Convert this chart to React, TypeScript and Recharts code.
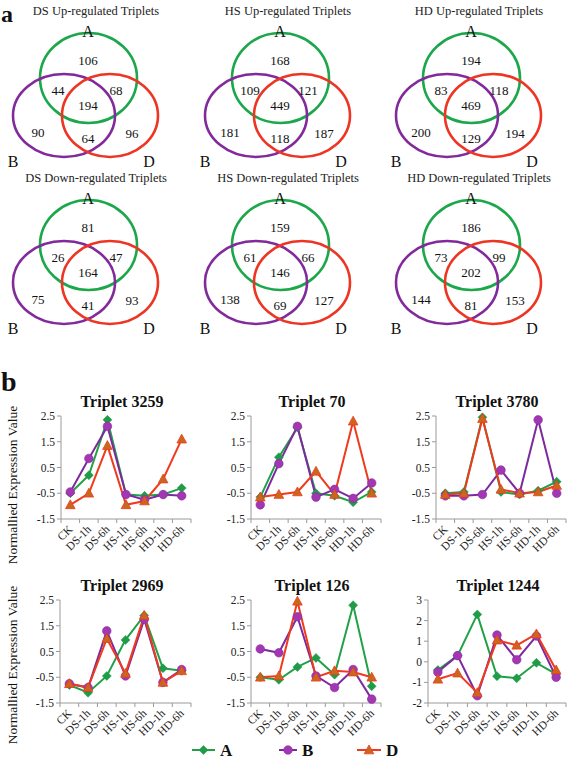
import React from 'react'
import { ScatterChart, Scatter, LineChart, Line, XAxis, YAxis } from 'recharts'

const SERIF = 'Liberation Serif, DejaVu Serif, serif'

// ---------- part a: Venn counts, region order A, AB, AD, ABD, B, BD, D
const vennTitles = [
    'DS Up-regulated Triplets', 'HS Up-regulated Triplets', 'HD Up-regulated Triplets',
    'DS Down-regulated Triplets', 'HS Down-regulated Triplets', 'HD Down-regulated Triplets',
]
const dsUp = [106, 44, 68, 194, 90, 64, 96]
const hsUp = [168, 109, 121, 449, 181, 118, 187]
const hdUp = [194, 83, 118, 469, 200, 129, 194]
const dsDown = [81, 26, 47, 164, 75, 41, 93]
const hsDown = [159, 61, 66, 146, 138, 69, 127]
const hdDown = [186, 73, 99, 202, 144, 81, 153]
const vennCounts = [dsUp, hsUp, hdUp, dsDown, hsDown, hdDown]

// ---------- part b: normalised expression lines
const timePoints = ['CK', 'DS-1h', 'DS-6h', 'HS-1h', 'HS-6h', 'HD-1h', 'HD-6h']

const t3259A = [-0.5, 0.2, 2.35, -0.55, -0.6, -0.55, -0.3]
const t3259B = [-0.45, 0.85, 2.1, -0.55, -0.75, -0.55, -0.6]
const t3259D = [-0.95, -0.5, 1.35, -0.95, -0.8, 0.05, 1.6]

const t70A = [-0.65, 0.9, 2.05, -0.5, -0.6, -0.85, -0.45]
const t70B = [-0.95, 0.65, 2.1, -0.65, -0.35, -0.7, -0.1]
const t70D = [-0.65, -0.55, -0.45, 0.35, -0.55, 2.3, -0.5]

const t3780A = [-0.5, -0.45, 2.45, -0.45, -0.55, -0.4, -0.05]
const t3780B = [-0.6, -0.6, -0.55, 0.4, -0.5, 2.35, -0.5]
const t3780D = [-0.55, -0.5, 2.4, -0.35, -0.5, -0.45, -0.2]

const t2969A = [-0.8, -1.1, -0.45, 0.95, 1.9, -0.15, -0.25]
const t2969B = [-0.75, -0.9, 1.3, -0.45, 1.75, -0.7, -0.2]
const t2969D = [-0.75, -0.9, 1.0, -0.35, 1.9, -0.7, -0.25]

const t126A = [-0.5, -0.6, -0.1, 0.25, -0.4, 2.3, -0.85]
const t126B = [0.6, 0.45, 1.85, -0.45, -0.9, -0.2, -1.35]
const t126D = [-0.5, -0.45, 2.45, -0.5, -0.25, -0.3, -0.5]

const t1244A = [-0.4, 0.3, 2.3, -0.7, -0.8, -0.05, -0.6]
const t1244B = [-0.5, 0.3, -1.65, 1.3, 0.1, 1.25, -0.75]
const t1244D = [-0.85, -0.55, -1.5, 1.05, 0.8, 1.35, -0.4]

const ticksHalf = [-1.5, -0.5, 0.5, 1.5, 2.5]
const ticksInt = [-2, -1, 0, 1, 2, 3]

const GREEN = '#20a146'
const PURPLE = '#7d2a9e'
const RED = '#f03a1e'

// layout of the venn panel (pixel coordinates inside the panel)
const PANEL_W = 184
const PANEL_H = 176
const vennSets = [
    { name: 'A', x: 88.5, y: 78, rx: 48.5, ry: 45, color: '#1ca74a', lx: 88, ly: 31 },
    { name: 'B', x: 64, y: 115.5, rx: 51, ry: 41.5, color: '#82299c', lx: 13, ly: 161 },
    { name: 'D', x: 110, y: 115.5, rx: 48, ry: 41.5, color: '#ee3524', lx: 149, ly: 161 },
]
const regionPos = [[88, 60], [58, 90], [116, 90], [88, 105], [38, 132], [88, 138], [132, 133]]

function VennPanel({ title, counts, left, top }: { title: string; counts: number[]; left: number; top: number }) {
    const numbers = counts.map((n, i) => ({ x: regionPos[i][0], y: regionPos[i][1], n }))
    const setLabels = vennSets.map(s => ({ x: s.lx, y: s.ly, n: s.name }))
    return (
        <div style={{ position: 'absolute', left, top, width: PANEL_W, height: PANEL_H }}>
            <div style={{ position: 'absolute', left: 0, top: 4, width: PANEL_W + 8, textAlign: 'center', fontFamily: SERIF, fontSize: 12.5, lineHeight: '15px', color: '#222' }}>
                {title}
            </div>
            <ScatterChart width={PANEL_W} height={PANEL_H} margin={{ top: 0, right: 0, bottom: 0, left: 0 }} style={{ position: 'absolute', left: 0, top: 0 }}>
                <XAxis type="number" dataKey="x" domain={[0, PANEL_W]} hide allowDataOverflow />
                <YAxis type="number" dataKey="y" domain={[0, PANEL_H]} hide reversed allowDataOverflow width={0} />
                <Scatter
                    data={vennSets}
                    isAnimationActive={false}
                    shape={(p: any) => (
                        <ellipse cx={p.cx} cy={p.cy} rx={p.payload.rx} ry={p.payload.ry} fill="none" stroke={p.payload.color} strokeWidth={2.6} />
                    )}
                />
                <Scatter
                    data={numbers}
                    isAnimationActive={false}
                    shape={(p: any) => (
                        <text x={p.cx} y={p.cy + 4.5} textAnchor="middle" fontFamily={SERIF} fontSize={13} fill="#111">{p.payload.n}</text>
                    )}
                />
                <Scatter
                    data={setLabels}
                    isAnimationActive={false}
                    shape={(p: any) => (
                        <text x={p.cx} y={p.cy + 5.5} textAnchor="middle" fontFamily={SERIF} fontSize={16} fill="#111">{p.payload.n}</text>
                    )}
                />
            </ScatterChart>
        </div>
    )
}

const Diamond = ({ cx, cy }: any) => (
    <polygon points={`${cx},${cy - 4.5} ${cx + 4.5},${cy} ${cx},${cy + 4.5} ${cx - 4.5},${cy}`} fill="#1e9c48" stroke="#1e9c48" strokeWidth={0.5} />
)
const Dot = ({ cx, cy }: any) => (
    <circle cx={cx} cy={cy} r={4.3} fill="#a236b3" stroke="#8c2aa0" strokeWidth={0.6} />
)
const Tri = ({ cx, cy }: any) => (
    <polygon points={`${cx},${cy - 5} ${cx + 4.8},${cy + 3.8} ${cx - 4.8},${cy + 3.8}`} fill="#c9681c" stroke={RED} strokeWidth={0.8} />
)

const YAXIS_W = 30
const PLOT_H = 103

function TimeTick({ x, y, payload, band }: any) {
    const i = payload.value
    if (i >= timePoints.length) return <g />
    const ax = x + band / 2 + 3
    const ay = y + 5
    return (
        <text x={ax} y={ay} textAnchor="end" transform={`rotate(-45 ${ax} ${ay})`} fontFamily={SERIF} fontSize={11.5} fill="#222">
            {timePoints[i]}
        </text>
    )
}

function TripletChart({ title, a, b, d, ticks, axisX, plotW, plotTop, titleX }: any) {
    const rows = timePoints.map((t, i) => ({ x: i + 0.5, label: t, A: a[i], B: b[i], D: d[i] }))
    const band = plotW / timePoints.length
    const top = plotTop - 6
    return (
        <>
            <div style={{ position: 'absolute', left: titleX - 80, top: plotTop - 23, width: 160, textAlign: 'center', fontFamily: SERIF, fontWeight: 'bold', fontSize: 16, color: '#111', lineHeight: '18px' }}>
                {title}
            </div>
            <LineChart
                width={YAXIS_W + plotW + 4}
                height={6 + PLOT_H + 40}
                data={rows}
                margin={{ top: 6, right: 4, bottom: 0, left: 0 }}
                style={{ position: 'absolute', left: axisX - YAXIS_W, top }}
            >
                <XAxis
                    type="number"
                    dataKey="x"
                    domain={[0, timePoints.length]}
                    ticks={timePoints.map((_, i) => i).concat([timePoints.length])}
                    interval={0}
                    height={40}
                    stroke="#9a9a9a"
                    tickSize={4}
                    tick={(p: any) => <TimeTick {...p} band={band} />}
                />
                <YAxis
                    type="number"
                    domain={[ticks[0], ticks[ticks.length - 1]]}
                    ticks={ticks}
                    interval={0}
                    width={YAXIS_W}
                    stroke="#9a9a9a"
                    tickSize={4}
                    tick={{ fontFamily: SERIF, fontSize: 11.5, fill: '#222' }}
                />
                <Line dataKey="A" stroke={GREEN} strokeWidth={2} isAnimationActive={false}
                    dot={(p: any) => <Diamond key={`a${p.index}`} {...p} />} />
                <Line dataKey="B" stroke={PURPLE} strokeWidth={2} isAnimationActive={false}
                    dot={(p: any) => <Dot key={`b${p.index}`} {...p} />} />
                <Line dataKey="D" stroke={RED} strokeWidth={2} isAnimationActive={false}
                    dot={(p: any) => <Tri key={`d${p.index}`} {...p} />} />
            </LineChart>
        </>
    )
}

function YLabel({ cy }: { cy: number }) {
    return (
        <div style={{ position: 'absolute', left: 13 - 100, top: cy - 8, width: 200, height: 16, lineHeight: '16px', textAlign: 'center', transform: 'rotate(-90deg)', fontFamily: SERIF, fontSize: 13.5, color: '#111' }}>
            Normallied Expression Value
        </div>
    )
}

function Legend() {
    const items = [
        { name: 'A', x1: 192, x2: 215, color: GREEN, mark: <Diamond cx={203.5} cy={13} /> },
        { name: 'B', x1: 279, x2: 297, color: PURPLE, mark: <Dot cx={288} cy={13} /> },
        { name: 'D', x1: 357, x2: 381, color: RED, mark: <Tri cx={369} cy={13} /> },
    ]
    return (
        <svg width={567} height={22} style={{ position: 'absolute', left: 0, top: 737 }}>
            {items.map(it => (
                <g key={it.name}>
                    <line x1={it.x1} x2={it.x2} y1={13} y2={13} stroke={it.color} strokeWidth={2} />
                    {it.mark}
                    <text x={it.x2 + 5} y={18.5} fontFamily={SERIF} fontWeight="bold" fontSize={17} fill="#111">{it.name}</text>
                </g>
            ))}
        </svg>
    )
}

const colLeft = [0, 192, 383]

export default function App() {
    return (
        <div style={{ position: 'absolute', left: 0, top: 0, width: 567, height: 759, background: '#fff', overflow: 'hidden' }}>
            {vennCounts.map((c, i) => (
                <VennPanel key={i} title={vennTitles[i]} counts={c} left={colLeft[i % 3]} top={Math.floor(i / 3) * 167} />
            ))}

            <svg width={30} height={400} style={{ position: 'absolute', left: 0, top: 0 }}>
                <text x={1} y={21.5} fontFamily={SERIF} fontWeight="bold" fontSize={24} fill="#111">a</text>
                <text x={1} y={391} fontFamily={SERIF} fontWeight="bold" fontSize={28} fill="#111">b</text>
            </svg>

            <TripletChart title="Triplet 3259" a={t3259A} b={t3259B} d={t3259D} ticks={ticksHalf} axisX={61} plotW={130} plotTop={416} titleX={122} />
            <TripletChart title="Triplet 70" a={t70A} b={t70B} d={t70D} ticks={ticksHalf} axisX={251} plotW={130} plotTop={416} titleX={312} />
            <TripletChart title="Triplet 3780" a={t3780A} b={t3780B} d={t3780D} ticks={ticksHalf} axisX={436} plotW={130} plotTop={416} titleX={497} />

            <TripletChart title="Triplet 2969" a={t2969A} b={t2969B} d={t2969D} ticks={ticksHalf} axisX={60} plotW={131} plotTop={600} titleX={122} />
            <TripletChart title="Triplet 126" a={t126A} b={t126B} d={t126D} ticks={ticksHalf} axisX={251} plotW={130} plotTop={600} titleX={312} />
            <TripletChart title="Triplet 1244" a={t1244A} b={t1244B} d={t1244D} ticks={ticksInt} axisX={428} plotW={138} plotTop={600} titleX={498} />

            <YLabel cy={485} />
            <YLabel cy={665} />
            <Legend />
        </div>
    )
}
